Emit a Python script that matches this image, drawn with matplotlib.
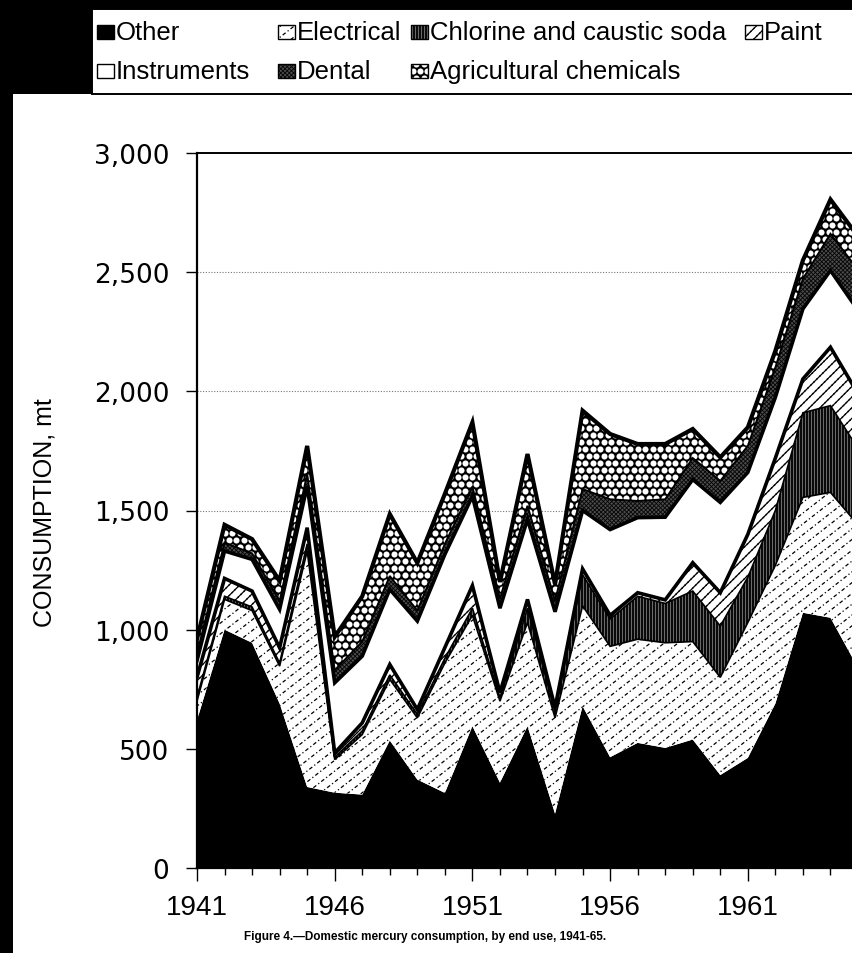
import numpy as np
import matplotlib.pyplot as plt
from matplotlib.collections import LineCollection
from matplotlib.patches import Rectangle

# Domestic mercury consumption by end use, metric tons
years = np.arange(1941, 1966)
other = [620, 1000, 945, 690, 340, 316, 308, 535, 371, 315, 595, 358, 595, 228,
         679, 465, 525, 504, 539, 390, 462, 690, 1071, 1050, 840]
electrical = [80, 127, 135, 157, 990, 139, 252, 256, 259, 545, 465, 342, 435, 402,
              421, 465, 435, 441, 411, 410, 568, 580, 484, 526, 600]
chlorine = [15, 13, 15, 13, 30, 10, 15, 19, 15, 20, 30, 15, 60, 25,
            130, 115, 180, 165, 212, 215, 190, 230, 355, 364, 320]
paint = [85, 75, 67, 64, 68, 18, 34, 44, 20, 45, 95, 21, 37, 18,
         25, 15, 15, 15, 119, 140, 180, 220, 142, 245, 230]
instruments = [70, 115, 133, 161, 175, 294, 280, 315, 371, 391, 375, 354, 336, 402,
               245, 360, 315, 347, 349, 379, 260, 255, 294, 322, 350]
dental = [30, 35, 25, 35, 50, 53, 61, 56, 44, 44, 40, 40, 57, 45,
          90, 127, 70, 75, 90, 90, 111, 125, 126, 154, 170]
agricultural = [60, 75, 60, 85, 118, 140, 190, 260, 200, 210, 270, 70, 217, 70,
                329, 274, 239, 232, 122, 99, 78, 70, 78, 144, 140]

names = ['Other', 'Electrical', 'Chlorine and caustic soda', 'Paint',
         'Instruments', 'Dental', 'Agricultural chemicals']
series = [other, electrical, chlorine, paint, instruments, dental, agricultural]
tops = np.cumsum(np.array(series, dtype=float), axis=0)

W, H = 8.53, 9.54
fig = plt.figure(figsize=(W, H), dpi=100)
fig.patch.set_facecolor('white')
ax = fig.add_axes([197 / 853, 85 / 954, 661 / 853, 715 / 954])
ax.set_autoscale_on(False)
ax.set_xlim(1941, 1965)
ax.set_ylim(0, 3000)

# overlay in pixel units (y down) for frame, legend and margins
lax = fig.add_axes([0, 0, 1, 1])
lax.set_xlim(0, 853)
lax.set_ylim(954, 0)
lax.axis('off')


def hatch_lines(target, clip, angle, spacing, lw, ls='-', color='k', z=1.2):
    t = np.radians(angle)
    d = np.array([np.cos(t), np.sin(t)])
    n = np.array([-np.sin(t), np.cos(t)])
    c = np.array([W / 2, H / 2])
    segs = [[c + n * k - d * 14, c + n * k + d * 14]
            for k in np.arange(-14, 14, spacing)]
    lc = LineCollection(segs, colors=color, linewidths=lw, linestyles=ls,
                        transform=fig.dpi_scale_trans, zorder=z)
    target.add_collection(lc, autolim=False)
    lc.set_clip_path(*clip)


def dot_grid(target, clip, dx, dy, size, color='white', z=1.3):
    xs, ys = np.meshgrid(np.arange(0, W, dx), np.arange(0, H, dy))
    xs[1::2] += dx / 2
    sc = target.scatter(xs.ravel(), ys.ravel(), s=size, c=color, linewidths=0,
                        marker='o', transform=fig.dpi_scale_trans, zorder=z)
    sc.set_clip_path(*clip)


def decorate(target, clip, i, z=1.2):
    if i == 1:    # electrical: light dashed diagonals
        hatch_lines(target, clip, 38, 0.085, 0.9, ls=(0, (3, 2, 1, 2)), z=z)
    elif i == 2:  # chlorine: dense vertical rules
        hatch_lines(target, clip, 90, 0.03, 1.3, z=z)
    elif i == 3:  # paint: diagonals with dotted rows between
        hatch_lines(target, clip, 45, 0.075, 0.9, z=z)
        hatch_lines(target, clip, 45, 0.075, 1.0, ls=(0, (1, 2)), z=z)
    elif i == 5:  # dental: dark stipple
        hatch_lines(target, clip, 45, 0.03, 0.6, z=z)
        hatch_lines(target, clip, 135, 0.03, 0.6, z=z)
    elif i == 6:  # agricultural: white circles on black
        dot_grid(target, clip, 0.075, 0.07, 19, z=z)


faces = ['black', 'white', '#6a6a6a', 'white', 'white', '#4d4d4d', 'black']

for v in range(500, 3000, 500):
    ax.axhline(v, color='#777777', lw=0.8, ls=(0, (1, 1.5)), zorder=0.5)

lower = np.zeros(len(years))
for i, top in enumerate(tops):
    poly = ax.fill_between(years, lower, top, facecolor=faces[i],
                           edgecolor='none', zorder=1)
    decorate(ax, (poly.get_paths()[0], ax.transData), i)
    lower = top

edge_w = [0, 1.2, 1.2, 2.6, 2.6, 1.4, 3.0]
for i in range(1, 7):
    ax.plot(years, tops[i], color='black', lw=edge_w[i],
            solid_joinstyle='miter', zorder=3)

# axes styling
ax.spines['right'].set_visible(False)
ax.spines['left'].set_linewidth(1.6)
ax.spines['bottom'].set_linewidth(1.6)
ax.spines['top'].set_linewidth(1.4)
ax.set_yticks(range(0, 3001, 500))
ax.set_yticklabels([f'{v:,}' for v in range(0, 3001, 500)],
                   fontfamily='DejaVu Sans', fontsize=19)
ax.set_xticks(np.arange(1941, 1965, 5))
ax.set_xticks(years, minor=True)
ax.set_xticklabels([str(y) for y in np.arange(1941, 1965, 5)],
                   fontfamily='Liberation Sans', fontsize=20)
ax.tick_params(axis='y', direction='out', length=8, width=1, pad=12)
ax.tick_params(axis='x', which='major', direction='out', length=9, width=1, pad=10)
ax.tick_params(axis='x', which='minor', direction='out', length=5, width=1)

fig.text(45 / 853, 1 - 513 / 954, 'CONSUMPTION, mt', rotation=90,
         ha='center', va='center', fontfamily='Liberation Sans', fontsize=18)
fig.text(0.498, 17 / 954,
         'Figure 4.\u2014Domestic mercury consumption, by end use, 1941-65.',
         ha='center', va='center', fontfamily='Liberation Sans',
         fontsize=8.5, fontweight='bold')

# dark scan margins
for x, y, w, h in [(0, 0, 13, 954), (0, 0, 853, 10), (0, 0, 92, 95)]:
    lax.add_patch(Rectangle((x, y), w, h, facecolor='black', edgecolor='none'))

# legend box
lax.add_patch(Rectangle((92, 10), 775, 85, facecolor='white',
                        edgecolor='black', lw=1.4, zorder=1))
entries = [(0, 97, 33), (1, 278, 33), (2, 411, 33), (3, 745, 33),
           (4, 97, 72), (5, 278, 72), (6, 411, 72)]
for i, x, y in entries:
    box = Rectangle((x, y - 7), 17, 14, facecolor=faces[i], edgecolor='none',
                    zorder=2)
    lax.add_patch(box)
    decorate(lax, (box,), i, z=2.5)
    lax.add_patch(Rectangle((x, y - 7), 17, 14, facecolor='none',
                            edgecolor='black', lw=1.0, zorder=2.8))
    lax.text(x + 19, y, names[i], ha='left', va='center',
             fontfamily='Liberation Sans', fontsize=18.5, zorder=3)

fig.savefig('out.png', dpi=100)
